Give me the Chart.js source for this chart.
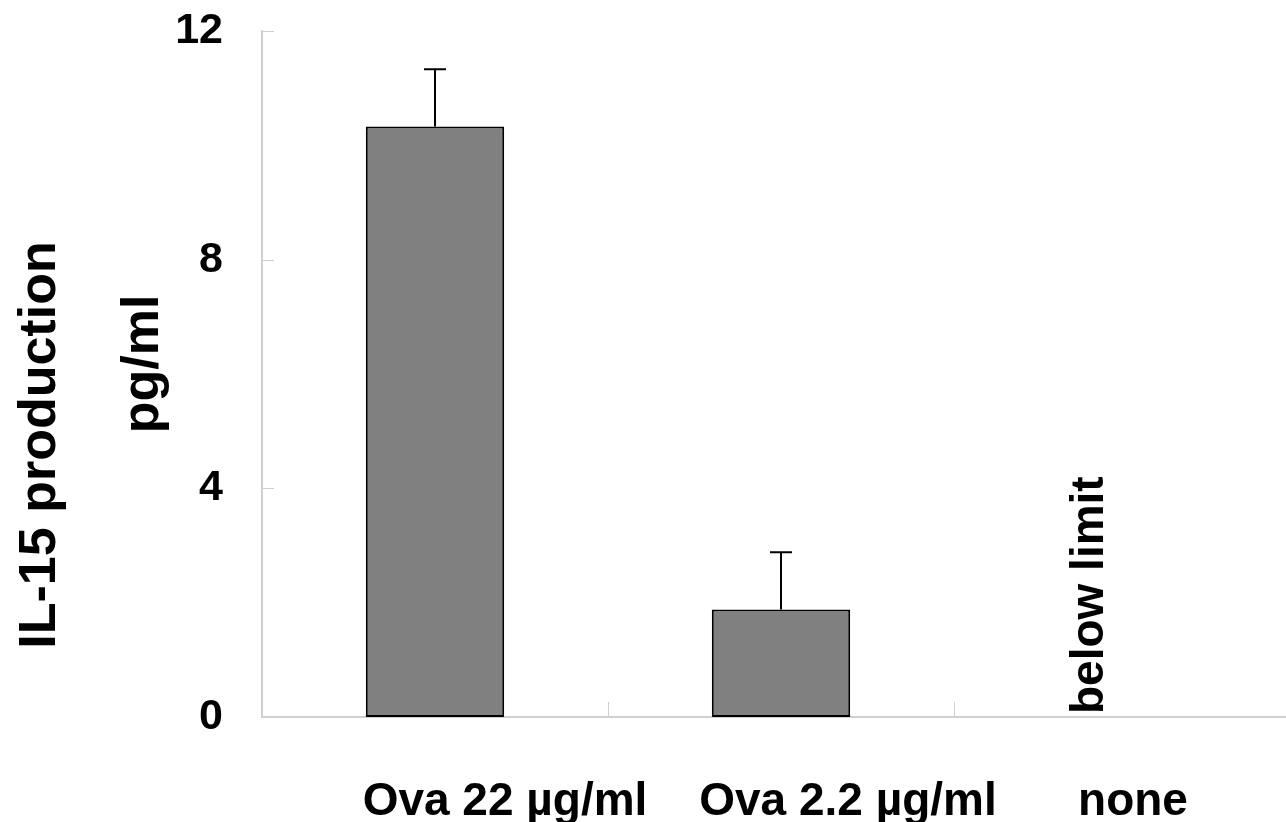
<!DOCTYPE html>
<html>
<head>
<meta charset="utf-8">
<script src="https://cdn.jsdelivr.net/npm/chart.js@4.4.1/dist/chart.umd.min.js"></script>
<style>
  html, body { margin: 0; padding: 0; background: #fff; overflow: hidden; }
  #wrap { width: 1300px; height: 822px; }
</style>
</head>
<body>
<div id="wrap"><canvas id="grafica"></canvas></div>
<script>
// ===================== DATOS =====================
const categorias = ['Ova 22 µg/ml', 'Ova 2.2 µg/ml', 'none'];
const medias = [10.33, 1.88, null];
const errores = [1.0, 1.0, null];
const notas = ['', '', 'below limit'];
const ticksY = [0, 4, 8, 12];
const tituloY = ['IL-15 production', 'pg/ml'];

// ===================== ESTILO =====================
const FUENTE = "'Liberation Sans', Arial, sans-serif";
const GRIS_EJE = '#cfcfcf';
const desplazEtiquetas = [70, 67, 6];   // las etiquetas del original no están centradas

// plugin: marcas de eje, barras de error, textos
const extras = {
  id: 'extras',
  afterDatasetsDraw(chart) {
    const ctx = chart.ctx;
    const x = chart.scales.x, y = chart.scales.y;
    const area = chart.chartArea;
    const meta = chart.getDatasetMeta(0);

    ctx.save();
    // marcas interiores del eje y
    ctx.strokeStyle = GRIS_EJE;
    ctx.lineWidth = 1;
    ticksY.forEach(v => {
      const py = Math.round(y.getPixelForValue(v)) + 0.5;
      ctx.beginPath();
      ctx.moveTo(area.left, py);
      ctx.lineTo(area.left + 12, py);
      ctx.stroke();
    });
    // separadores entre categorías
    for (let i = 1; i < categorias.length; i++) {
      const px = Math.round((x.getPixelForValue(i - 1) + x.getPixelForValue(i)) / 2) + 0.5;
      ctx.beginPath();
      ctx.moveTo(px, area.bottom);
      ctx.lineTo(px, area.bottom - 15);
      ctx.stroke();
    }

    // barras de error (solo hacia arriba)
    ctx.strokeStyle = '#000';
    ctx.lineWidth = 2;
    meta.data.forEach((bar, i) => {
      if (medias[i] == null || errores[i] == null) return;
      const top = y.getPixelForValue(medias[i] + errores[i]);
      ctx.beginPath();
      ctx.moveTo(bar.x, bar.y);
      ctx.lineTo(bar.x, top);
      ctx.moveTo(bar.x - 11, top);
      ctx.lineTo(bar.x + 11, top);
      ctx.stroke();
    });

    ctx.fillStyle = '#000';
    // notas verticales
    ctx.font = 'bold 46px ' + FUENTE;
    ctx.textAlign = 'left';
    ctx.textBaseline = 'alphabetic';
    notas.forEach((t, i) => {
      if (!t) return;
      ctx.save();
      ctx.translate(x.getPixelForValue(i) - 24, y.getPixelForValue(0) - 3);
      ctx.rotate(-Math.PI / 2);
      ctx.fillText(t, 0, 0);
      ctx.restore();
    });

    // etiquetas de categorías
    ctx.font = 'bold 46px ' + FUENTE;
    ctx.textAlign = 'center';
    categorias.forEach((c, i) => {
      ctx.fillText(c, x.getPixelForValue(i) + desplazEtiquetas[i], 815);
    });

    // título del eje y (dos líneas)
    ctx.font = 'bold 52px ' + FUENTE;
    ctx.textAlign = 'center';
    [[55, 445], [158, 364]].forEach((p, i) => {
      ctx.save();
      ctx.translate(p[0], p[1]);
      ctx.rotate(-Math.PI / 2);
      ctx.fillText(tituloY[i], 0, 0);
      ctx.restore();
    });
    ctx.restore();
  }
};

new Chart(document.getElementById('grafica'), {
  type: 'bar',
  data: {
    labels: categorias,
    datasets: [{
      data: medias,
      backgroundColor: '#808080',
      borderColor: '#000',
      borderWidth: 2,
      borderSkipped: false,
      barPercentage: 0.4,
      categoryPercentage: 1
    }]
  },
  options: {
    responsive: true,
    maintainAspectRatio: false,
    animation: false,
    events: [],
    layout: { padding: { top: 31, right: 0, left: 0, bottom: 0 } },
    plugins: { legend: { display: false }, tooltip: { enabled: false } },
    scales: {
      x: {
        grid: { display: false },
        border: { display: true, color: GRIS_EJE, width: 2 },
        ticks: { display: false },
        afterFit(s) { s.height = 105; s.paddingLeft = 0; s.paddingRight = 0; }
      },
      y: {
        min: 0,
        max: 12,
        afterBuildTicks(s) { s.ticks = ticksY.map(v => ({ value: v })); },
        grid: { display: false },
        border: { display: true, color: GRIS_EJE, width: 2 },
        ticks: {
          color: '#000',
          padding: 31,
          font: { family: FUENTE, size: 43, weight: 'bold' }
        },
        afterFit(s) { s.width = 262; s.paddingTop = 0; s.paddingBottom = 0; }
      }
    }
  },
  plugins: [extras]
});
</script>
</body>
</html>
